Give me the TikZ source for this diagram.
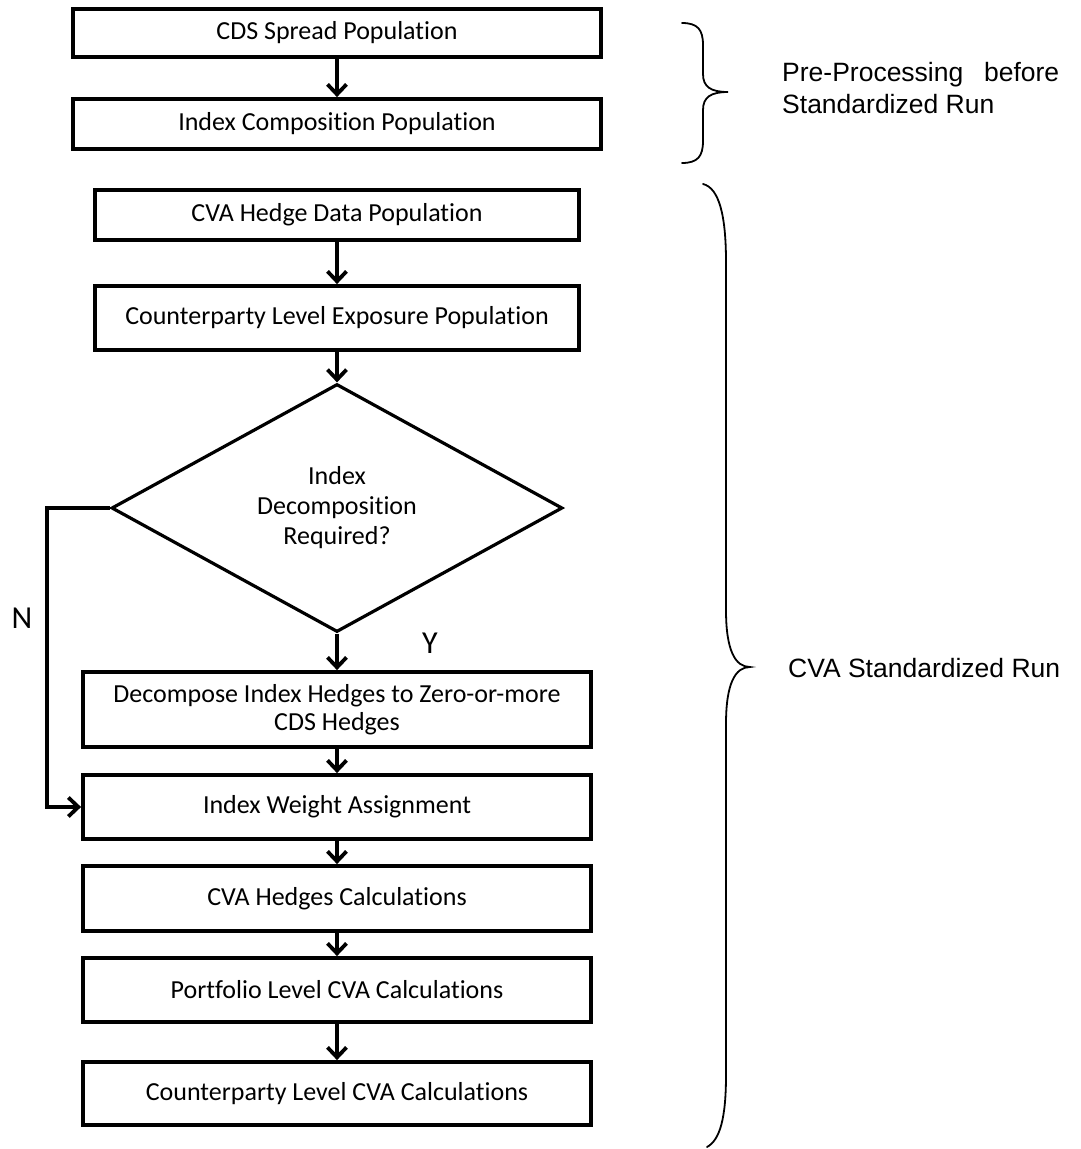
\documentclass[tikz,border=0pt]{standalone}
\usepackage{fontspec}
\setmainfont[Ligatures=NoCommon]{Carlito}
\newfontfamily\arialfont{Liberation Sans}
\usetikzlibrary{shapes.geometric,arrows.meta}
\begin{document}
\begin{tikzpicture}[x=1pt,y=-1pt,
  box/.style={draw, line width=3.8pt, inner sep=0pt, align=center,
    font=\fontsize{26}{28}\selectfont},
  boxA/.style={box, minimum width=528pt},
  boxB/.style={box, minimum width=484pt},
  boxC/.style={box, minimum width=508pt},
  arr/.style={line width=3.8pt, -{Straight Barb[length=10pt,width=19pt,line width=3.8pt]}},
  brace/.style={line width=1.8pt, line cap=round},
  side/.style={font=\arialfont\fontsize{26.5}{32}\selectfont, inner sep=0pt},
  yn/.style={font=\fontsize{32}{34}\selectfont, inner sep=0pt}]
\useasboundingbox (0,0) rectangle (1080,1149);
\fill[white] (0,0) rectangle (1080,1149);

\node[boxA, minimum height=48pt] (b1) at (337,33) {CDS Spread Population};
\node[boxA, minimum height=50pt] (b2) at (337,124) {Index Composition Population};
\node[boxB, minimum height=50pt] (b3) at (337,215) {CVA Hedge Data Population};
\node[boxB, minimum height=64pt] (b4) at (337,318) {Counterparty Level Exposure Population};
\node[draw, diamond, line width=3.2pt, inner sep=0pt, minimum width=451pt, minimum height=248pt,
  align=center, font=\fontsize{26}{30}\selectfont] (dia) at (337,508)
  {Index\\Decomposition\\Required?};
\node[boxC, minimum height=75pt] (b5) at (337,709.5) {Decompose Index Hedges to Zero-or-more\\CDS Hedges};
\node[boxC, minimum height=64pt] (b6) at (337,807) {Index Weight Assignment};
\node[boxC, minimum height=65pt] (b7) at (337,898.5) {CVA Hedges Calculations};
\node[boxC, minimum height=64pt] (b8) at (337,990) {Portfolio Level CVA Calculations};
\node[boxC, minimum height=63pt] (b9) at (337,1093.5) {Counterparty Level CVA Calculations};

\draw[arr] (b1) -- (b2);
\draw[arr] (b3) -- (b4);
\draw[arr] (b4) -- (dia);
\draw[arr] (dia) -- (b5);
\draw[arr] (b5) -- (b6);
\draw[arr] (b6) -- (b7);
\draw[arr] (b7) -- (b8);
\draw[arr] (b8) -- (b9);
\coordinate (nc) at (47,508);
\draw[arr] (dia.west) -- (nc) |- (b6.west);

\node[yn] (nlab) at (22,618) {N};
\node[yn] (ylab) at (430,643) {Y};

% braces
\draw[brace] (682,23) .. controls (698,23) and (703,30) .. (703,45) -- (703,74)
  .. controls (703,87) and (711,92) .. (728,92)
  .. controls (711,92) and (703,97) .. (703,110) -- (703,141)
  .. controls (703,156) and (698,163) .. (682,163);
\draw[brace] (703,184) .. controls (719,188) and (726,215) .. (726,262) -- (726,610)
  .. controls (726,650) and (735,667) .. (750,667)
  .. controls (735,667) and (726,684) .. (726,724) -- (726,1075)
  .. controls (726,1118) and (720,1140) .. (707,1147);

\node[side, anchor=base west] (pre1) at (782,81) {\makebox[277pt][s]{Pre-Processing before}};
\node[side, anchor=base west] (pre2) at (782,113) {Standardized Run};
\node[side, anchor=base west] (cva) at (788,677) {CVA Standardized Run};
\end{tikzpicture}
\end{document}
